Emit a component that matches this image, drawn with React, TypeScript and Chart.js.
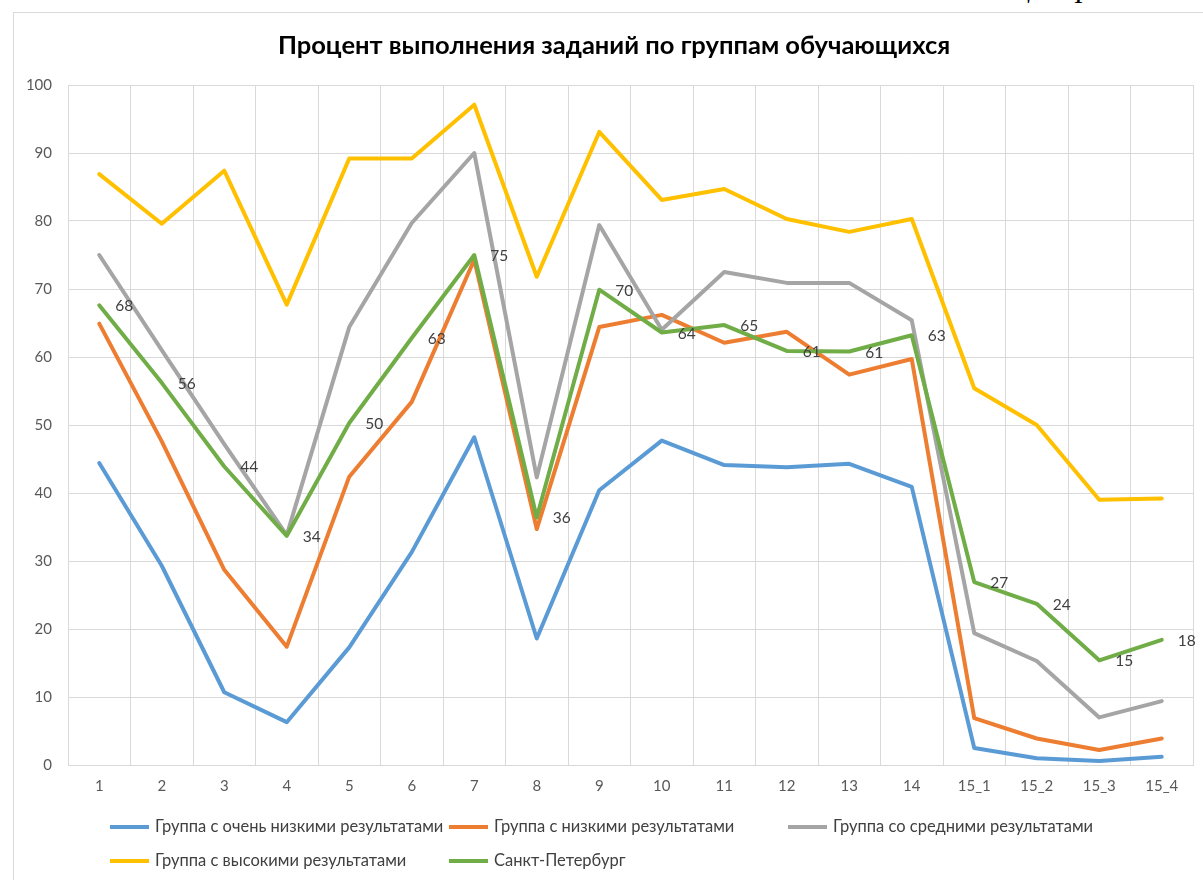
import React, { useEffect, useRef } from 'react';
import { Chart, registerables } from 'chart.js';

Chart.register(...registerables);

const categories = ['1', '2', '3', '4', '5', '6', '7', '8', '9', '10', '11', '12', '13', '14', '15_1', '15_2', '15_3', '15_4'];

const seriesNames = [
  'Группа с очень низкими результатами',
  'Группа с низкими результатами',
  'Группа со средними результатами',
  'Группа с высокими результатами',
  'Санкт-Петербург',
];

const veryLow = [44.4, 29.3, 10.7, 6.3, 17.3, 31.3, 48.2, 18.6, 40.4, 47.7, 44.1, 43.8, 44.3, 40.9, 2.5, 1.0, 0.6, 1.2];
const low = [64.9, 47.6, 28.7, 17.4, 42.4, 53.4, 74.3, 34.7, 64.4, 66.2, 62.1, 63.7, 57.4, 59.7, 6.9, 3.9, 2.2, 3.9];
const middle = [75.0, 61.0, 47.2, 33.8, 64.4, 79.7, 90.0, 42.3, 79.4, 64.0, 72.5, 70.9, 70.9, 65.4, 19.4, 15.3, 7.0, 9.4];
const high = [86.9, 79.6, 87.4, 67.7, 89.2, 89.2, 97.1, 71.8, 93.1, 83.1, 84.7, 80.3, 78.4, 80.3, 55.4, 50.0, 39.0, 39.2];
const spb = [67.6, 56.2, 43.9, 33.7, 50.3, 62.8, 75.0, 36.4, 69.9, 63.6, 64.7, 60.9, 60.8, 63.2, 26.9, 23.7, 15.4, 18.4];

const seriesValues = [veryLow, low, middle, high, spb];
const seriesColors = ['#5B9BD5', '#ED7D31', '#A5A5A5', '#FFC000', '#70AD47'];
const drawOrder = [4, 3, 2, 1, 0];
const labelledSeries = 4;

const chartTitle = 'Процент выполнения заданий по группам обучающихся';
const cornerText = 'Диаграмма';

const FONT = 'Lato, "Open Sans", "Noto Sans", sans-serif';

const overlayPlugin = {
  id: 'overlay',
  afterDatasetsDraw(chart: any) {
    const ctx = chart.ctx;
    const meta = chart.getDatasetMeta(labelledSeries);
    const data = chart.data.datasets[labelledSeries].data;
    ctx.save();
    ctx.font = `15.5px ${FONT}`;
    ctx.fillStyle = '#404040';
    ctx.textAlign = 'left';
    ctx.textBaseline = 'middle';
    meta.data.forEach((pt: any, i: number) => {
      ctx.fillText(String(Math.round(data[i])), pt.x + 16, pt.y + 1);
    });
    ctx.restore();
  },
  afterDraw(chart: any) {
    const ctx = chart.ctx;
    const area = chart.chartArea;
    ctx.save();
    // title
    ctx.font = `bold 25.5px ${FONT}`;
    ctx.fillStyle = '#000000';
    ctx.textAlign = 'center';
    ctx.textBaseline = 'middle';
    ctx.fillText(chartTitle, 614, 46);

    // legend
    ctx.font = `16.5px ${FONT}`;
    ctx.fillStyle = '#404040';
    ctx.textAlign = 'left';
    ctx.textBaseline = 'middle';
    chart.data.datasets.forEach((ds: any, i: number) => {
      const col = i % 3;
      const row = Math.floor(i / 3);
      const x = area.left + 42 + col * 339;
      const y = area.bottom + 62 + row * 34;
      ctx.strokeStyle = ds.borderColor;
      ctx.lineWidth = 4;
      ctx.lineCap = 'butt';
      ctx.beginPath();
      ctx.moveTo(x, y);
      ctx.lineTo(x + 39, y);
      ctx.stroke();
      ctx.fillText(ds.label, x + 45, y);
    });
    ctx.restore();
  },
};

export default function App() {
  const canvasRef = useRef<HTMLCanvasElement | null>(null);

  useEffect(() => {
    if (!canvasRef.current) return;
    const chart = new Chart(canvasRef.current, {
      type: 'line',
      data: {
        labels: categories,
        datasets: seriesValues.map((vals, i) => ({
          label: seriesNames[i],
          data: vals,
          borderColor: seriesColors[i],
          backgroundColor: seriesColors[i],
          borderWidth: 4,
          pointRadius: 0,
          pointHoverRadius: 0,
          tension: 0,
          fill: false,
          borderJoinStyle: 'round' as const,
          borderCapStyle: 'round' as const,
          order: drawOrder[i],
        })),
      },
      options: {
        responsive: false,
        animation: false,
        events: [],
        layout: { padding: { top: 85, bottom: 80, left: 0, right: 10 } },
        plugins: {
          legend: { display: false },
          title: { display: false },
          tooltip: { enabled: false },
        },
        scales: {
          x: {
            offset: true,
            grid: { offset: true, color: '#d9d9d9', lineWidth: 1, drawTicks: false },
            border: { color: '#d9d9d9', width: 1 },
            ticks: { color: '#595959', font: { family: FONT, size: 15 }, padding: 12, maxRotation: 0, autoSkip: false },
            afterFit(scale: any) { scale.height = 35; },
          },
          y: {
            min: 0,
            max: 100,
            grid: { color: '#d9d9d9', lineWidth: 1, drawTicks: false },
            border: { display: false },
            ticks: { stepSize: 10, color: '#595959', font: { family: FONT, size: 15 }, padding: 16 },
            afterFit(scale: any) { scale.width = 68; },
          },
        },
      },
      plugins: [overlayPlugin],
    });
    return () => chart.destroy();
  }, []);

  return (
    <div style={{ position: 'fixed', left: 0, top: 0, width: 1203, height: 880, background: '#ffffff', overflow: 'hidden' }}>
      <div style={{ position: 'absolute', left: 13, top: 12, width: 1250, height: 920, border: '1px solid #d9d9d9' }} />
      <div style={{ position: 'absolute', left: 1012, top: 0, width: 191, height: 11, overflow: 'hidden' }}>
        <span style={{ position: 'absolute', left: 0, top: -31, fontFamily: '"Liberation Serif", serif', fontStyle: 'italic', fontSize: 32, lineHeight: '32px', whiteSpace: 'nowrap', color: '#000' }}>{cornerText}</span>
      </div>
      <canvas ref={canvasRef} width={1203} height={880} style={{ position: 'absolute', left: 0, top: 0 }} />
    </div>
  );
}
